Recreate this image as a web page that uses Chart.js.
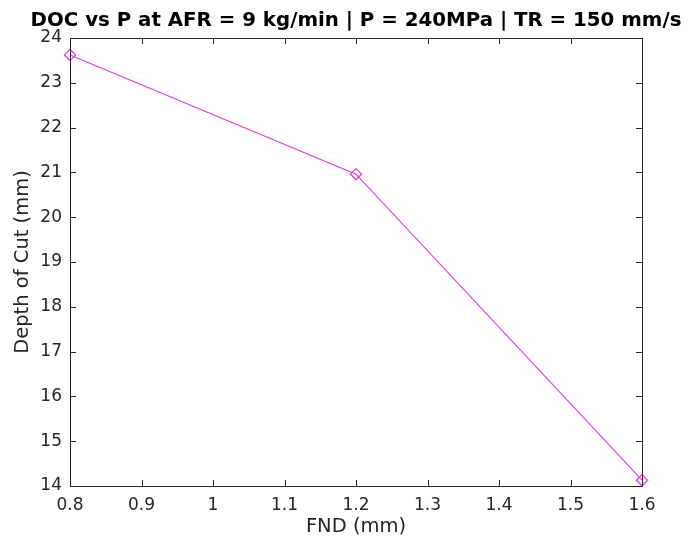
<!DOCTYPE html>
<html><head><meta charset="utf-8">
<script src="https://cdn.jsdelivr.net/npm/chart.js@4/dist/chart.umd.min.js"></script>
<style>html,body{margin:0;padding:0;background:#fff}#wrap{width:698px;height:540px}</style>
</head><body><div id="wrap"><canvas id="c" width="698" height="540"></canvas></div>
<script>
const fnd = [0.8, 1.2, 1.6];
const depthOfCut = [23.62, 20.96, 14.13];
const xTicks = [0.8, 0.9, 1.0, 1.1, 1.2, 1.3, 1.4, 1.5, 1.6];
const yTicks = [14, 15, 16, 17, 18, 19, 20, 21, 22, 23, 24];
const titleText = 'DOC vs P at AFR = 9 kg/min | P = 240MPa | TR = 150 mm/s';

const boxPlugin = {
  id: 'boxTicks',
  afterDraw(chart) {
    const {ctx, chartArea: a, scales: {x, y}} = chart;
    ctx.save();
    ctx.strokeStyle = '#262626';
    ctx.lineWidth = 1;
    ctx.beginPath();
    ctx.rect(Math.round(a.left) + 0.5, Math.round(a.top) + 0.5, Math.round(a.right - a.left), Math.round(a.bottom - a.top));
    const L = 6;
    xTicks.forEach(v => {
      const px = Math.round(x.getPixelForValue(v)) + 0.5;
      ctx.moveTo(px, a.bottom); ctx.lineTo(px, a.bottom - L);
      ctx.moveTo(px, a.top); ctx.lineTo(px, a.top + L);
    });
    yTicks.forEach(v => {
      const py = Math.round(y.getPixelForValue(v)) + 0.5;
      ctx.moveTo(a.left, py); ctx.lineTo(a.left + L, py);
      ctx.moveTo(a.right, py); ctx.lineTo(a.right - L, py);
    });
    ctx.stroke();
    ctx.restore();
  }
};

new Chart(document.getElementById('c'), {
  type: 'line',
  data: {
    datasets: [{
      xAxisID: 'x', yAxisID: 'y',
      data: fnd.map((v, i) => ({x: v, y: depthOfCut[i]})),
      borderColor: '#e040e0',
      borderWidth: 1.2,
      pointStyle: 'rectRot',
      pointRadius: 5.6,
      pointBorderWidth: 1.3,
      pointBackgroundColor: 'rgba(0,0,0,0)',
      pointBorderColor: '#e040e0',
      tension: 0,
      clip: false
    }]
  },
  options: {
    responsive: false,
    animation: false,
    layout: {padding: {top: 0, right: 0, bottom: 0, left: 14}},
    plugins: {
      legend: {display: false},
      tooltip: {enabled: false},
      title: {
        display: true,
        text: titleText,
        fullSize: true,
        color: '#000',
        font: {family: 'DejaVu Sans', size: 19.8, weight: 'bold', lineHeight: 1.2},
        padding: {top: 9, bottom: 5.2}
      }
    },
    scales: {
      x: {
        type: 'linear',
        min: 0.8, max: 1.6,
        afterBuildTicks: s => { s.ticks = xTicks.map(v => ({value: v})); },
        afterFit: s => { s.height = 54; },
        grid: {display: false, drawTicks: false},
        border: {display: false},
        ticks: {
          color: '#262626', padding: 9,
          font: {family: 'DejaVu Sans', size: 17},
          callback: v => String(Math.round(v * 10) / 10)
        },
        title: {display: true, text: 'FND (mm)', color: '#262626',
          font: {family: 'DejaVu Sans', size: 19.5}, padding: {top: 0, bottom: 1}}
      },
      y: {
        type: 'linear',
        position: 'left',
        min: 14, max: 24,
        afterBuildTicks: s => { s.ticks = yTicks.map(v => ({value: v})); },
        afterFit: s => { s.width = 56; },
        grid: {display: false, drawTicks: false},
        border: {display: false},
        ticks: {
          color: '#262626', padding: 8,
          font: {family: 'DejaVu Sans', size: 17}
        },
        title: {display: true, text: 'Depth of Cut (mm)', color: '#262626',
          font: {family: 'DejaVu Sans', size: 19.5}, padding: {top: -2.7, bottom: 0}}
      },
      yRight: {
        type: 'linear',
        position: 'right',
        min: 14, max: 24,
        afterFit: s => { s.width = 56; },
        grid: {display: false, drawTicks: false},
        border: {display: false},
        ticks: {display: false}
      }
    }
  },
  plugins: [boxPlugin]
});
</script></body></html>
